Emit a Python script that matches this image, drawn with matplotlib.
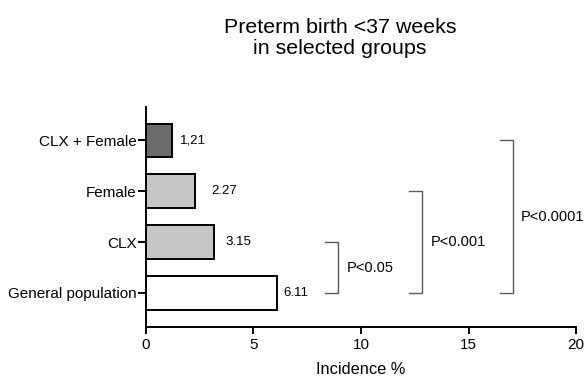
import matplotlib
matplotlib.use("Agg")
from matplotlib import pyplot as plt

# data
groups = ["General population", "CLX", "Female", "CLX + Female"]
incidence = [6.11, 3.15, 2.27, 1.21]
value_labels = ["6.11", "3.15", "2.27", "1,21"]
bar_colors = ["white", "#c6c6c6", "#c6c6c6", "#6b6b6b"]

# significance brackets: (lower group index, upper group index, x position, label)
brackets = [(0, 1, 8.95, "P<0.05"), (0, 2, 12.85, "P<0.001"), (0, 3, 17.05, "P<0.0001")]

plt.rcParams["font.family"] = ["Liberation Sans", "DejaVu Sans"]

fig = plt.figure(figsize=(5.86, 3.82), dpi=100)
ax = fig.add_axes([0.249, 0.144, 0.734, 0.576])

ypos = list(range(len(groups)))
ax.barh(ypos, incidence, height=0.65, color=bar_colors, edgecolor="black", linewidth=1.4)

# value labels next to bars (offsets in points)
label_offsets = [4.5, 8.5, 12.0, 5.8]
for y, v, txt, off in zip(ypos, incidence, value_labels, label_offsets):
    ax.annotate(txt, (v, y), xytext=(off, 0), textcoords="offset points",
                va="center", ha="left", fontsize=9.5)

# brackets
arm = 0.6
for lo, hi, x, lab in brackets:
    ax.plot([x - arm, x, x, x - arm], [lo, lo, hi, hi], color="#5a5a5a", lw=1.0,
            clip_on=False)
    ax.text(x + 0.4, (lo + hi) / 2, lab, va="center", ha="left", fontsize=10.5)

ax.set_xlim(0, 20)
ax.set_ylim(-0.667, 3.65)
ax.set_xticks([0, 5, 10, 15, 20])
ax.set_yticks(ypos)
ax.set_yticklabels(groups)
ax.tick_params(axis="y", length=6, width=1.4, labelsize=11, pad=0.5)
ax.tick_params(axis="x", length=5, width=1.4, labelsize=11, pad=3)
for s in ["top", "right"]:
    ax.spines[s].set_visible(False)
for s in ["left", "bottom"]:
    ax.spines[s].set_linewidth(1.4)

ax.set_xlabel("Incidence %", fontsize=11.8, labelpad=7)
fig.text(0.58, 0.9, "Preterm birth <37 weeks\nin selected groups", ha="center",
         va="center", fontsize=15.4, linespacing=1.1)

fig.savefig("out.png", dpi=100)
